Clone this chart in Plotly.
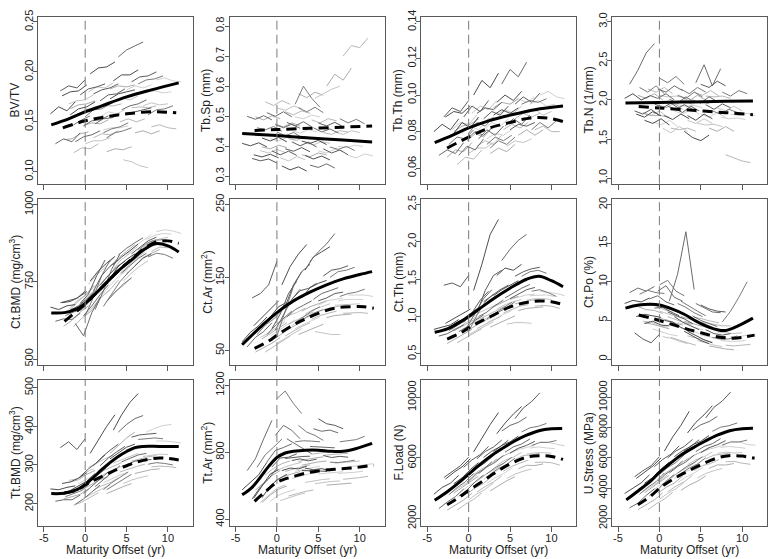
import plotly.graph_objects as go

# ---------------- measurement times (maturity offset, yr) per subject ----------------
boy_t = [[-4.2,-3.2,-2.2,-1.2],[-3.6,-2.6,-1.6,-0.6],[-3.0,-2.0,-1.0,0.0],[-2.4,-1.4,-0.4,0.6],
         [-1.8,-0.8,0.2,1.2],[-1.2,-0.2,0.8,1.8],[-0.6,0.4,1.4,2.4],[0.0,1.0,2.0,3.0],
         [0.6,1.6,2.6,3.6],[1.2,2.2,3.2,4.2],[1.8,2.8,3.8,4.8],[2.6,3.6,4.6,5.6],
         [3.4,4.4,5.4,6.4],[4.4,5.4,6.4,7.4],[5.6,6.6,7.6,8.6],[7.6,8.6,9.6,10.6],
         [-2.8,-1.8,-0.8,0.2],[-0.2,0.8,1.8,2.8],[1.0,2.0,3.0,4.0],[2.2,3.2,4.2,5.2],
         [3.0,4.0,5.0,6.0],[4.0,5.0,6.0,7.0],[5.0,6.0,7.0,8.0],[6.4,7.4,8.4,9.4]]
girl_t = [[-2.6,-1.6,-0.6,0.4],[-2.0,-1.0,0.0,1.0],[-1.4,-0.4,0.6,1.6],[-0.8,0.2,1.2,2.2],
          [-0.2,0.8,1.8,2.8],[0.4,1.4,2.4,3.4],[1.0,2.0,3.0,4.0],[1.8,2.8,3.8,4.8],
          [2.6,3.6,4.6,5.6],[3.4,4.4,5.4,6.4],[4.2,5.2,6.2,7.2],[5.0,6.0,7.0,8.0],
          [6.0,7.0,8.0,9.0],[7.0,8.0,9.0,10.0],[8.0,9.0,10.0,11.0],[8.6,9.6,10.6,11.6],
          [-1.8,-0.8,0.2,1.2],[0.0,1.0,2.0,3.0],[1.4,2.4,3.4,4.4],[2.2,3.2,4.2,5.2],
          [3.0,4.0,5.0,6.0],[4.6,5.6,6.6,7.6],[5.6,6.6,7.6,8.6],[7.4,8.4,9.4,10.4]]

# ---------------- BV/TV ----------------
bvtv_boys = [[0.158,0.165,0.161,0.170],[0.128,0.133,0.130,0.139],[0.181,0.186,0.184,0.192],[0.146,0.147,0.152,0.156],
             [0.157,0.163,0.165,0.170],[0.130,0.135,0.137,0.141],[0.177,0.183,0.185,0.188],[0.155,0.162,0.163,0.168],
             [0.198,0.204,0.205,0.210],[0.148,0.153,0.154,0.158],[0.171,0.177,0.178,0.183],[0.134,0.139,0.141,0.144],
             [0.191,0.197,0.197,0.202],[0.162,0.166,0.168,0.172],[0.190,0.195,0.196,0.200],[0.157,0.162,0.163,0.166],
             [0.176,0.180,0.181,0.187],[0.146,0.151,0.152,0.156],[0.178,0.182,0.184,0.188],[0.139,0.143,0.145,0.149],
             [0.173,0.178,0.180,0.182],[0.215,0.222,0.226,0.230],[0.157,0.160,0.162,0.164],[0.188,0.192,0.193,0.196]]
bvtv_girls = [[0.132,0.133,0.138,0.140],[0.168,0.171,0.172,0.177],[0.119,0.124,0.123,0.128],[0.158,0.163,0.162,0.166],
              [0.146,0.149,0.148,0.152],[0.180,0.185,0.184,0.189],[0.134,0.138,0.137,0.141],[0.155,0.160,0.158,0.162],
              [0.120,0.123,0.122,0.125],[0.170,0.174,0.172,0.176],[0.150,0.153,0.150,0.153],[0.182,0.186,0.184,0.187],
              [0.139,0.141,0.138,0.141],[0.166,0.169,0.167,0.168],[0.145,0.147,0.144,0.143],[0.192,0.194,0.191,0.190],
              [0.163,0.167,0.168,0.171],[0.128,0.131,0.131,0.134],[0.163,0.166,0.166,0.168],[0.142,0.144,0.144,0.146],
              [0.183,0.186,0.185,0.187],[0.112,0.110,0.106,0.104],[0.164,0.165,0.164,0.166],[0.180,0.181,0.179,0.180]]
bvtv_mb_x = [-4.1,-2,0,2,5,8,11.3]
bvtv_mb_y = [0.147,0.153,0.160,0.166,0.175,0.182,0.189]
bvtv_mg_x = [-2.7,0,2.5,5,8,11]
bvtv_mg_y = [0.144,0.151,0.155,0.158,0.160,0.159]

# ---------------- Tb.Sp ----------------
tbsp_boys = [[0.410,0.402,0.412,0.398],[0.500,0.490,0.502,0.488],[0.360,0.352,0.358,0.345],[0.462,0.455,0.466,0.450],
             [0.428,0.418,0.430,0.415],[0.512,0.500,0.515,0.498],[0.385,0.372,0.384,0.370],[0.448,0.435,0.446,0.430],
             [0.335,0.322,0.332,0.318],[0.480,0.468,0.482,0.465],[0.415,0.402,0.414,0.398],[0.528,0.515,0.530,0.512],
             [0.370,0.358,0.368,0.355],[0.462,0.448,0.458,0.445],[0.392,0.378,0.388,0.372],[0.492,0.478,0.490,0.475],
             [0.372,0.365,0.374,0.362],[0.472,0.462,0.474,0.460],[0.392,0.384,0.396,0.382],[0.540,0.600,0.560,0.530],
             [0.418,0.410,0.420,0.406],[0.338,0.330,0.342,0.328],[0.478,0.468,0.480,0.465],[0.398,0.390,0.400,0.386]]
tbsp_girls = [[0.498,0.488,0.502,0.492],[0.386,0.378,0.390,0.380],[0.548,0.536,0.552,0.540],[0.426,0.418,0.430,0.420],
              [0.474,0.465,0.478,0.468],[0.362,0.352,0.366,0.356],[0.515,0.505,0.518,0.510],[0.452,0.444,0.456,0.448],
              [0.575,0.562,0.580,0.570],[0.412,0.405,0.416,0.410],[0.488,0.478,0.492,0.485],[0.385,0.378,0.390,0.384],
              [0.600,0.640,0.620,0.660],[0.448,0.440,0.452,0.446],[0.700,0.735,0.728,0.760],[0.370,0.362,0.375,0.368],
              [0.398,0.392,0.404,0.396],[0.528,0.520,0.534,0.526],[0.426,0.420,0.432,0.426],[0.498,0.492,0.504,0.498],
              [0.372,0.366,0.378,0.372],[0.560,0.575,0.590,0.600],[0.446,0.440,0.452,0.448],[0.400,0.396,0.404,0.400]]
tbsp_mb_x = [-4.2,0,4,8,11.5]
tbsp_mb_y = [0.443,0.436,0.428,0.421,0.415]
tbsp_mg_x = [-2.7,0,4,8,11.5]
tbsp_mg_y = [0.453,0.456,0.460,0.464,0.468]

# ---------------- Tb.Th ----------------
tbth_boys = [[0.080,0.084,0.081,0.087],[0.067,0.070,0.068,0.074],[0.088,0.093,0.091,0.097],[0.073,0.077,0.076,0.081],
             [0.079,0.085,0.082,0.088],[0.067,0.072,0.070,0.076],[0.088,0.094,0.091,0.097],[0.079,0.085,0.083,0.088],
             [0.100,0.108,0.104,0.112],[0.076,0.081,0.078,0.083],[0.087,0.091,0.089,0.094],[0.071,0.075,0.073,0.077],
             [0.096,0.100,0.097,0.102],[0.083,0.087,0.084,0.089],[0.095,0.099,0.096,0.101],[0.081,0.085,0.082,0.086],
             [0.088,0.091,0.090,0.094],[0.076,0.080,0.078,0.082],[0.090,0.093,0.092,0.096],[0.073,0.077,0.075,0.078],
             [0.089,0.092,0.090,0.093],[0.106,0.114,0.110,0.118],[0.081,0.084,0.083,0.085],[0.095,0.097,0.096,0.098]]
tbth_girls = [[0.066,0.070,0.069,0.074],[0.081,0.085,0.084,0.089],[0.062,0.066,0.065,0.070],[0.079,0.083,0.081,0.086],
              [0.075,0.079,0.077,0.082],[0.090,0.094,0.092,0.097],[0.072,0.075,0.073,0.078],[0.081,0.085,0.083,0.087],
              [0.068,0.071,0.069,0.073],[0.089,0.092,0.090,0.094],[0.081,0.084,0.082,0.085],[0.095,0.098,0.096,0.099],
              [0.078,0.081,0.078,0.081],[0.090,0.092,0.089,0.091],[0.081,0.083,0.080,0.080],[0.100,0.102,0.099,0.098],
              [0.080,0.083,0.084,0.087],[0.068,0.071,0.071,0.074],[0.084,0.087,0.087,0.089],[0.076,0.079,0.078,0.081],
              [0.093,0.096,0.095,0.098],[0.072,0.075,0.074,0.076],[0.087,0.090,0.088,0.090],[0.095,0.097,0.094,0.095]]
tbth_mb_x = [-4.1,-2,0,2.5,5,8,11.4]
tbth_mb_y = [0.074,0.078,0.082,0.086,0.089,0.092,0.094]
tbth_mg_x = [-2.6,0,2.5,5,7.5,9.5,11.4]
tbth_mg_y = [0.071,0.077,0.082,0.085,0.0875,0.0875,0.0855]

# ---------------- Tb.N ----------------
tbn_boys = [[2.02,2.08,2.00,2.05],[2.20,2.38,2.60,2.72],[1.86,1.82,1.88,1.80],[2.16,2.10,2.18,2.08],
            [1.74,1.70,1.76,1.68],[2.06,2.02,2.08,2.00],[1.95,1.90,1.96,1.89],[2.28,2.22,2.30,2.20],
            [1.80,1.75,1.82,1.76],[2.01,1.96,2.04,1.97],[1.89,1.84,1.92,1.86],[2.14,2.08,2.16,2.10],
            [1.80,1.74,1.82,1.76],[2.22,2.45,2.18,2.40],[1.94,1.88,1.95,1.90],[2.10,2.05,2.12,2.08],
            [1.82,1.78,1.85,1.80],[2.14,2.10,2.18,2.12],[1.92,1.88,1.94,1.88],[2.06,2.02,2.10,2.04],
            [1.60,1.52,1.48,1.55],[2.00,1.96,2.04,1.98],[2.20,2.16,2.24,2.18],[1.86,1.82,1.88,1.84]]
tbn_girls = [[2.06,2.02,2.08,2.00],[1.84,1.80,1.86,1.78],[2.14,2.10,2.16,2.08],[1.72,1.68,1.74,1.66],
             [1.94,1.90,1.96,1.88],[1.64,1.58,1.66,1.60],[1.99,1.94,2.00,1.94],[1.86,1.82,1.88,1.82],
             [2.04,1.99,2.06,2.00],[1.74,1.70,1.76,1.70],[2.10,2.06,2.12,2.05],[1.82,1.78,1.84,1.78],
             [1.64,1.60,1.66,1.60],[1.90,1.86,1.92,1.86],[1.30,1.26,1.22,1.20],[1.82,1.80,1.83,1.80],
             [1.82,1.80,1.80,1.78],[2.06,2.04,2.05,2.03],[1.64,1.62,1.64,1.60],[1.94,1.92,1.93,1.90],
             [1.99,1.97,1.98,1.95],[1.70,1.68,1.69,1.66],[2.05,2.04,2.05,2.02],[1.78,1.76,1.77,1.75]]
tbn_mb_x = [-4.1,0,4,8,11.3]
tbn_mb_y = [1.962,1.968,1.975,1.982,1.988]
tbn_mg_x = [-2.5,0,4,8,11.3]
tbn_mg_y = [1.915,1.898,1.868,1.838,1.812]

# ---------------- Ct.BMD ----------------
ctbmd_boys = [[668,660,672,676],[622,630,628,648],[682,690,696,720],[640,652,660,690],
              [658,672,694,722],[615,575,650,700],[680,710,770,820],[640,700,770,820],
              [752,785,810,832],[660,720,790,840],[738,770,798,816],[686,716,742,762],
              [805,830,850,872],[778,800,825,842],[840,862,882,894],[830,842,838,826],
              [682,686,700,718],[640,672,708,740],[720,770,800,820],[670,712,750,780],
              [760,800,822,840],[836,858,876,892],[775,802,826,840],[852,874,884,886]]
ctbmd_girls = [[606,625,652,672],[660,688,705,738],[605,632,652,684],[672,700,724,754],
               [664,694,718,746],[742,772,796,826],[670,702,724,755],[730,760,784,810],
               [686,716,738,764],[792,822,842,866],[776,800,826,846],[836,864,884,902],
               [802,828,842,854],[862,882,888,894],[848,862,860,858],[912,918,914,906],
               [660,688,710,738],[640,670,700,724],[728,760,785,808],[712,744,770,790],
               [800,826,848,870],[752,778,800,818],[828,852,870,884],[886,900,906,904]]
ctbmd_mb_x = [-4.1,-2.5,-1,0,1,2.5,4,5.5,7,8.5,10,11.3]
ctbmd_mb_y = [649,650,662,680,705,745,785,818,852,873,866,846]
ctbmd_mg_x = [-2.5,-1,0,1,2.5,4,5.5,7,8.5,10,11.3]
ctbmd_mg_y = [622,655,678,705,745,785,820,855,878,882,874]

# ---------------- Ct.Ar ----------------
ctar_boys = [[62,75,84,96],[55,68,76,88],[122,128,140,172],[72,85,93,105],
             [86,96,110,116],[72,84,94,104],[80,100,128,145],[70,105,138,158],
             [140,165,182,195],[96,106,112,118],[120,132,135,142],[88,96,102,106],
             [160,178,185,192],[120,128,132,136],[152,160,162,166],[124,128,130,134],
             [84,95,106,118],[78,100,120,134],[110,140,158,168],[88,96,104,110],
             [122,136,142,146],[172,185,196,210],[118,122,128,130],[150,158,160,164]]
ctar_girls = [[48,54,60,68],[68,74,82,90],[48,55,62,70],[70,78,85,92],
              [67,75,82,88],[88,98,102,108],[70,77,83,88],[84,92,96,101],
              [72,77,82,86],[100,106,110,114],[93,98,101,104],[112,118,120,122],
              [95,98,99,100],[112,113,114,114],[101,102,102,101],[126,126,126,124],
              [66,73,80,88],[60,67,74,80],[86,92,98,103],[80,86,91,96],
              [104,110,114,118],[76,74,72,72],[106,109,111,113],[118,120,120,120]]
ctar_mb_x = [-4.2,-2,0,2,4,6,8,10,11.5]
ctar_mb_y = [58,82,102,118,130,140,148,154,158]
ctar_mg_x = [-2.7,-1,0,1.5,3,5,7,9,10.5,11.7]
ctar_mg_y = [53,63,71,82,91,101,108,110,110,108]

# ---------------- Ct.Th ----------------
ctth_boys = [[0.83,0.86,0.89,0.96],[0.74,0.77,0.83,0.89],[1.42,1.45,1.40,1.55],[0.81,0.88,0.94,1.02],
             [0.90,0.96,1.04,1.12],[0.80,0.86,0.95,1.02],[0.92,1.05,1.22,1.34],[0.80,1.02,1.20,1.30],
             [1.35,1.70,2.10,2.30],[1.00,1.06,1.15,1.22],[1.20,1.28,1.36,1.42],[0.98,1.06,1.12,1.20],
             [1.55,1.65,1.62,1.70],[1.25,1.32,1.38,1.43],[1.54,1.60,1.64,1.66],[1.34,1.36,1.32,1.27],
             [0.91,0.97,1.03,1.10],[0.86,1.05,1.24,1.36],[1.05,1.35,1.55,1.62],[0.97,1.05,1.12,1.19],
             [1.28,1.36,1.42,1.48],[1.75,1.90,2.02,2.10],[1.24,1.30,1.36,1.39],[1.54,1.60,1.62,1.58]]
ctth_girls = [[0.64,0.70,0.76,0.83],[0.82,0.87,0.94,1.00],[0.65,0.71,0.78,0.84],[0.83,0.90,0.96,1.02],
              [0.81,0.88,0.94,0.99],[0.99,1.06,1.11,1.16],[0.84,0.90,0.95,1.01],[0.96,1.02,1.08,1.13],
              [0.86,0.91,0.96,1.01],[1.10,1.16,1.20,1.23],[1.05,1.10,1.14,1.16],[1.23,1.26,1.29,1.30],
              [1.08,1.11,1.12,1.13],[1.22,1.24,1.24,1.23],[1.14,1.15,1.14,1.11],[1.34,1.33,1.31,1.28],
              [0.81,0.87,0.93,0.99],[0.76,0.82,0.87,0.93],[0.97,1.03,1.08,1.14],[0.92,0.98,1.03,1.08],
              [1.13,1.18,1.24,1.27],[0.90,0.92,0.92,0.91],[1.17,1.20,1.22,1.23],[1.28,1.29,1.29,1.27]]
ctth_mb_x = [-4.1,-2.5,-1,0,1.5,3,5,7,8.5,10,11.4]
ctth_mb_y = [0.79,0.84,0.93,1.0,1.12,1.24,1.38,1.50,1.54,1.48,1.40]
ctth_mg_x = [-2.6,-1,0,1.5,3,5,7,8.5,10,11.4]
ctth_mg_y = [0.70,0.78,0.85,0.94,1.02,1.13,1.19,1.21,1.20,1.16]

# ---------------- Ct.Po ----------------
ctpo_boys = [[7.2,7.6,7.4,7.9],[8.6,9.2,8.8,9.4],[3.4,2.6,2.1,3.2],[8.4,8.9,8.6,8.5],
             [4.6,4.9,4.4,4.3],[7.8,8.2,7.4,7.0],[6.6,6.7,6.1,5.6],[9.6,10.2,8.8,8.2],
             [5.0,4.8,4.1,3.6],[7.5,11.0,16.5,9.0],[5.5,4.8,4.3,3.8],[7.5,6.8,6.2,5.6],
             [3.6,3.0,2.5,2.1],[7.2,6.6,6.1,6.0],[3.8,3.3,3.1,3.3],[4.8,6.2,8.0,10.0],
             [5.5,5.8,5.6,5.4],[8.8,9.5,8.0,7.5],[6.1,5.7,5.2,4.6],[7.2,6.7,6.0,5.5],
             [3.6,3.0,2.4,2.0],[5.6,5.0,4.6,4.2],[7.0,6.5,6.2,6.1],[2.8,2.6,2.6,3.0]]
ctpo_girls = [[6.8,6.4,6.3,5.9],[4.9,4.8,4.3,4.1],[7.0,6.9,6.4,6.1],[3.9,3.6,3.2,3.0],
              [5.3,5.1,4.7,4.4],[2.9,2.7,2.3,2.0],[5.5,5.1,4.7,4.5],[4.3,4.0,3.7,3.3],
              [5.5,5.2,4.9,4.6],[3.0,2.7,2.4,2.2],[5.4,5.2,4.9,4.7],[3.1,2.9,2.6,2.5],
              [1.7,1.5,1.3,1.2],[3.5,3.4,3.3,3.4],[1.8,1.7,1.8,1.9],[2.9,2.9,3.1,3.2],
              [4.7,4.5,4.2,3.9],[6.2,5.9,5.5,5.2],[2.8,2.4,2.1,1.8],[4.7,4.5,4.1,3.8],
              [4.9,4.6,4.3,4.0],[2.4,2.1,1.8,1.6],[4.7,4.5,4.3,4.3],[2.4,2.3,2.3,2.4]]
ctpo_mb_x = [-4.1,-2.5,-1,0,1.5,3,5,7,8,9.5,11.3]
ctpo_mb_y = [6.6,7.0,7.1,7.0,6.5,5.8,4.6,3.8,3.7,4.3,5.3]
ctpo_mg_x = [-2.5,-1,0,1.5,3,5,7,9,11.5]
ctpo_mg_y = [5.7,5.3,5.0,4.5,4.0,3.4,2.9,2.7,3.1]

# ---------------- Tt.BMD ----------------
ttbmd_boys = [[238,236,242,246],[206,210,210,222],[345,360,340,368],[218,226,234,254],
              [234,246,258,278],[198,212,230,248],[270,290,306,326],[244,266,282,302],
              [330,365,400,430],[244,262,282,298],[298,318,334,348],[236,250,264,276],
              [390,430,462,485],[308,318,326,330],[372,378,380,382],[302,306,304,300],
              [252,256,266,280],[226,246,264,282],[298,320,338,354],[236,254,268,282],
              [316,332,346,354],[385,405,420,428],[300,310,313,314],[366,368,370,368]]
ttbmd_girls = [[212,218,224,238],[260,264,280,290],[196,204,216,228],[252,264,276,286],
               [238,250,262,270],[294,306,316,326],[235,246,254,266],[272,282,292,300],
               [226,236,244,252],[305,314,322,330],[282,290,296,302],[333,341,347,350],
               [278,284,288,290],[322,326,328,327],[295,297,296,293],[362,362,360,357],
               [256,262,276,286],[216,228,238,248],[278,288,298,306],[254,264,274,281],
               [330,350,370,385],[252,261,267,272],[310,316,321,324],[385,395,402,405]]
ttbmd_mb_x = [-4.1,-2.5,-1,0,1,2,3,4,5,6,7,9,11.3]
ttbmd_mb_y = [226,227,236,250,268,288,306,322,335,345,348,348,348]
ttbmd_mg_x = [-2.5,-1,0,1,2,3,4,5,6,7,8,9,10,11.3]
ttbmd_mg_y = [228,235,248,260,270,280,290,298,306,312,316,318,317,313]

# ---------------- Tt.Ar ----------------
ttar_boys = [[575,620,665,740],[690,760,880,990],[520,592,640,705],[710,785,830,878],
             [528,600,640,668],[742,810,828,850],[712,765,770,790],[1120,1165,1090,1030],
             [690,705,700,716],[880,850,820,790],[750,760,748,758],[960,920,900,870],
             [705,695,702,688],[940,925,932,915],[780,768,775,770],[862,870,875,895],
             [525,600,670,695],[900,960,930,880],[762,770,774,776],[862,868,866,862],
             [690,690,688,685],[834,832,828,826],[1000,970,960,940],[740,738,744,752]]
ttar_girls = [[573,618,660,690],[499,544,584,604],[664,704,731,748],[508,543,562,577],
              [630,654,670,684],[511,529,543,556],[685,700,713,724],[643,657,669,677],
              [744,757,765,772],[619,628,636,641],[788,797,802,806],[670,675,680,683],
              [603,608,611,615],[734,737,741,747],[638,642,648,656],[712,718,725,731],
              [500,544,579,598],[692,712,727,740],[538,552,565,574],[685,697,707,716],
              [722,733,742,747],[612,619,625,628],[781,787,790,793],[673,675,680,686]]
ttar_mb_x = [-4.2,-3,-2,-1,0,1,2,3.5,5,6.5,8,9.5,11.5]
ttar_mb_y = [545,590,650,715,768,795,805,812,812,805,805,820,852]
ttar_mg_x = [-2.7,-1.5,0,1,2,3.5,5,7,9,11.7]
ttar_mg_y = [506,560,620,640,655,675,688,698,705,722]

# ---------------- F.Load ----------------
fload_boys = [[3600,4050,4330,4850],[2650,3080,3440,3950],[4700,5120,5480,6050],[3560,4040,4420,4980],
              [4290,4680,5230,5690],[3470,3880,4430,4870],[5380,5870,6220,6760],[4850,5330,5680,6170],
              [6400,7300,8200,9000],[4960,5400,5710,6160],[6030,6450,6740,7170],[4930,5300,5580,5980],
              [7600,8300,8900,9400],[6380,6730,6920,7250],[8600,9300,9720,10300],[6820,7020,7030,7150],
              [4600,5040,5410,5950],[4390,4900,5260,5740],[5950,6420,6720,7180],[4940,5360,5640,6040],
              [6420,6830,7060,7440],[7780,8150,8350,8700],[6310,6640,6830,7100],[7720,7990,8090,8280]]
fload_girls = [[2550,2910,3220,3660],[3740,4100,4430,4870],[2540,2940,3260,3690],[3820,4220,4520,4960],
               [3640,4020,4320,4760],[4840,5220,5510,5940],[3740,4110,4410,4810],[4580,4950,5280,5610],
               [3820,4160,4490,4760],[5510,5850,6050,6360],[5130,5440,5660,5850],[6310,6550,6690,6840],
               [5280,5510,5500,5600],[6260,6330,6350,6310],[5700,5720,5680,5530],[7060,7030,6910,6790],
               [3670,4050,4380,4800],[3230,3620,3920,4340],[4650,5040,5330,5710],[4320,4690,4960,5320],
               [5730,6080,6340,6620],[4640,4930,5120,5270],[5890,6160,6200,6310],[6650,6730,6660,6610]]
fload_mb_x = [-4.1,-2.5,-1,0,1,2.5,4,5.5,7,8.5,10,11.3]
fload_mb_y = [3200,3800,4450,4930,5400,6050,6600,7100,7500,7800,7930,7950]
fload_mg_x = [-2.6,-1,0,1.5,3,5,7,8.5,10,11.4]
fload_mg_y = [2900,3450,3850,4400,4950,5600,6050,6150,6100,5900]

# ---------------- U.Stress ----------------
ustr_boys = [[3650,4020,4350,4880],[2700,3010,3520,3960],[4750,5150,5480,6080],[3600,4060,4430,5010],
             [4330,4700,5260,5720],[3500,3900,4460,4900],[5420,5900,6250,6800],[4900,5370,5700,6200],
             [6450,7380,8150,9080],[5000,5430,5730,6190],[6080,6480,6760,7200],[4960,5330,5600,6010],
             [7650,8350,8850,9450],[6420,6760,6940,7280],[8650,9350,9760,10350],[6860,7050,7050,7180],
             [4640,5080,5460,6000],[4450,4950,5300,5800],[6000,6460,6760,7220],[4990,5400,5690,6080],
             [6470,6870,7100,7480],[7830,8190,8400,8740],[6350,6680,6870,7140],[7760,8030,8130,8310]]
ustr_girls = [[2580,2930,3230,3690],[3780,4120,4450,4900],[2570,2960,3280,3720],[3850,4250,4540,4990],
              [3670,4050,4340,4790],[4880,5250,5540,5970],[3770,4130,4430,4840],[4620,5000,5250,5660],
              [3860,4200,4460,4810],[5550,5880,6080,6390],[5170,5490,5630,5900],[6350,6580,6720,6870],
              [5310,5540,5530,5630],[6300,6380,6320,6360],[5740,5770,5650,5580],[7100,7080,6880,6840],
              [3700,4090,4420,4850],[3270,3660,3960,4390],[4690,5080,5370,5750],[4360,4730,5000,5360],
              [5770,6120,6380,6650],[4680,4970,5160,5300],[5930,6190,6240,6340],[6690,6760,6700,6640]]
ustr_mb_x = [-4.0,-2.5,-1,0,1,2.5,4,5.5,7,8.5,10,11.3]
ustr_mb_y = [3230,3850,4500,5050,5500,6150,6650,7100,7500,7800,7930,7960]
ustr_mg_x = [-2.6,-1,0,1.5,3,5,7,8.4,10,11.5]
ustr_mg_y = [2910,3500,3990,4550,5000,5550,6000,6150,6120,5980]

x_ticks = [-5, 0, 5, 10]
x_title = "Maturity Offset (yr)"

panels = [
    ("BV/TV", bvtv_boys, bvtv_girls, bvtv_mb_x, bvtv_mb_y, bvtv_mg_x, bvtv_mg_y,
     [0.088, 0.255], [0.10, 0.15, 0.20, 0.25], ["0.10", "0.15", "0.20", "0.25"]),
    ("Tb.Sp (mm)", tbsp_boys, tbsp_girls, tbsp_mb_x, tbsp_mb_y, tbsp_mg_x, tbsp_mg_y,
     [0.276, 0.83], [0.3, 0.4, 0.5, 0.6, 0.7, 0.8], ["0.3", "0.4", "0.5", "0.6", "0.7", "0.8"]),
    ("Tb.Th (mm)", tbth_boys, tbth_girls, tbth_mb_x, tbth_mb_y, tbth_mg_x, tbth_mg_y,
     [0.0515, 0.1427], [0.06, 0.08, 0.10, 0.12, 0.14], ["0.06", "0.08", "0.10", "0.12", "0.14"]),
    ("Tb.N (1/mm)", tbn_boys, tbn_girls, tbn_mb_x, tbn_mb_y, tbn_mg_x, tbn_mg_y,
     [0.93, 3.06], [1.0, 1.5, 2.0, 2.5, 3.0], ["1.0", "1.5", "2.0", "2.5", "3.0"]),
    ("Ct.BMD (mg/cm<sup>3</sup>)", ctbmd_boys, ctbmd_girls, ctbmd_mb_x, ctbmd_mb_y, ctbmd_mg_x, ctbmd_mg_y,
     [480, 1019], [500, 750, 1000], ["500", "750", "1000"]),
    ("Ct.Ar (mm<sup>2</sup>)", ctar_boys, ctar_girls, ctar_mb_x, ctar_mb_y, ctar_mg_x, ctar_mg_y,
     [30, 258], [50, 150, 250], ["50", "150", "250"]),
    ("Ct.Th (mm)", ctth_boys, ctth_girls, ctth_mb_x, ctth_mb_y, ctth_mg_x, ctth_mg_y,
     [0.35, 2.58], [0.5, 1.0, 1.5, 2.0, 2.5], ["0.5", "1.0", "1.5", "2.0", "2.5"]),
    ("Ct.Po (%)", ctpo_boys, ctpo_girls, ctpo_mb_x, ctpo_mb_y, ctpo_mg_x, ctpo_mg_y,
     [-0.8, 20.8], [0, 5, 10, 15, 20], ["0", "5", "10", "15", "20"]),
    ("Tt.BMD (mg/cm<sup>3</sup>)", ttbmd_boys, ttbmd_girls, ttbmd_mb_x, ttbmd_mb_y, ttbmd_mg_x, ttbmd_mg_y,
     [142, 520], [200, 300, 400, 500], ["200", "300", "400", "500"]),
    ("Tt.Ar (mm<sup>2</sup>)", ttar_boys, ttar_girls, ttar_mb_x, ttar_mb_y, ttar_mg_x, ttar_mg_y,
     [359, 1231], [400, 800, 1200], ["400", "800", "1200"]),
    ("F.Load (N)", fload_boys, fload_girls, fload_mb_x, fload_mb_y, fload_mg_x, fload_mg_y,
     [1500, 11150], [2000, 6000, 10000], ["2000", "6000", "10000"]),
    ("U.Stress (MPa)", ustr_boys, ustr_girls, ustr_mb_x, ustr_mb_y, ustr_mg_x, ustr_mg_y,
     [1500, 11150], [2000, 4000, 6000, 8000, 10000], ["2000", "4000", "6000", "8000", "10000"]),
]

# ---------------- layout geometry ----------------
W, H = 776, 559
ML, MR, MT, MB = 38, 8, 10, 33
PW, PH = W - ML - MR, H - MT - MB
col_px = [(38, 193), (230, 385), (422, 577), (613, 768)]
row_px = [(10, 179), (194, 363), (378, 526)]

def px_to_xpaper(px):
    return (px - ML) / PW

def py_to_ypaper(py):
    return (H - MB - py) / PH

def xdom(c):
    a, b = col_px[c]
    return [px_to_xpaper(a), px_to_xpaper(b)]

def ydom(r):
    a, b = row_px[r]
    return [py_to_ypaper(b), py_to_ypaper(a)]

boy_shades = ["#4d4d4d", "#6b6b6b", "#5c5c5c", "#7a7a7a"]
girl_shades = ["#adadad", "#c4c4c4", "#b8b8b8", "#d0d0d0"]
axis_col = "#595959"
text_col = "#222222"
font_fam = "Liberation Sans, Arial, Helvetica, sans-serif"

fig = go.Figure()
layout = {}
shapes = []
annotations = []

for i, (ytitle, boys, girls, mbx, mby, mgx, mgy, yr, yt, ytt) in enumerate(panels):
    r, c = divmod(i, 4)
    suf = "" if i == 0 else str(i + 1)
    xa, ya = "x" + suf, "y" + suf
    for k, (tt, vv) in enumerate(zip(girl_t, girls)):
        fig.add_trace(go.Scatter(x=tt, y=vv, mode="lines", xaxis=xa, yaxis=ya,
                                 line=dict(color=girl_shades[k % 4], width=1),
                                 showlegend=False, hoverinfo="skip"))
    for k, (tt, vv) in enumerate(zip(boy_t, boys)):
        fig.add_trace(go.Scatter(x=tt, y=vv, mode="lines", xaxis=xa, yaxis=ya,
                                 line=dict(color=boy_shades[k % 4], width=1),
                                 showlegend=False, hoverinfo="skip"))
    fig.add_trace(go.Scatter(x=mgx, y=mgy, mode="lines", xaxis=xa, yaxis=ya,
                             line=dict(color="black", width=3, dash="10px,6px", shape="spline"),
                             showlegend=False, hoverinfo="skip"))
    fig.add_trace(go.Scatter(x=mbx, y=mby, mode="lines", xaxis=xa, yaxis=ya,
                             line=dict(color="black", width=3, shape="spline"),
                             showlegend=False, hoverinfo="skip"))

    layout["xaxis" + suf] = dict(
        domain=xdom(c), anchor=ya, range=[-5.7, 13], tickvals=x_ticks,
        ticktext=[str(v) for v in x_ticks], showticklabels=(r == 2), ticklabelstandoff=-3,
        ticks="outside", ticklen=5, tickcolor=axis_col, showline=True, mirror=True,
        linecolor=axis_col, linewidth=1, showgrid=False, zeroline=False,
        tickfont=dict(size=11, color=text_col))
    layout["yaxis" + suf] = dict(
        domain=ydom(r), anchor=xa, range=yr, tickvals=yt, ticktext=ytt,
        tickangle=-90, ticks="outside", ticklen=4, tickcolor=axis_col, ticklabelstandoff=-4,
        showline=True, mirror=True, linecolor=axis_col, linewidth=1,
        showgrid=False, zeroline=False, tickfont=dict(size=11, color=text_col))
    shapes.append(dict(type="line", xref=xa, yref=ya + " domain", x0=0, x1=0, y0=0, y1=1,
                       line=dict(color="#7a7a7a", width=1, dash="9px,5px")))
    annotations.append(dict(text=ytitle, xref="paper", yref="paper",
                            x=px_to_xpaper(col_px[c][0] - 23),
                            y=py_to_ypaper((row_px[r][0] + row_px[r][1]) / 2),
                            xanchor="center", yanchor="middle", textangle=-90, showarrow=False,
                            font=dict(size=12, color=text_col)))
    if r == 2:
        annotations.append(dict(text=x_title, xref="paper", yref="paper",
                                x=px_to_xpaper((col_px[c][0] + col_px[c][1]) / 2),
                                y=py_to_ypaper(550), xanchor="center", yanchor="middle",
                                showarrow=False, font=dict(size=12, color=text_col)))

fig.update_layout(**layout)
fig.update_layout(width=W, height=H, margin=dict(l=ML, r=MR, t=MT, b=MB),
                  paper_bgcolor="white", plot_bgcolor="white", shapes=shapes,
                  annotations=annotations,
                  font=dict(family=font_fam, size=11, color=text_col), hovermode=False,
                  showlegend=False)
fig.write_html("out.html", config={"displayModeBar": False, "staticPlot": True},
               post_script="document.body.style.margin='0px';document.body.style.overflow='hidden';")
